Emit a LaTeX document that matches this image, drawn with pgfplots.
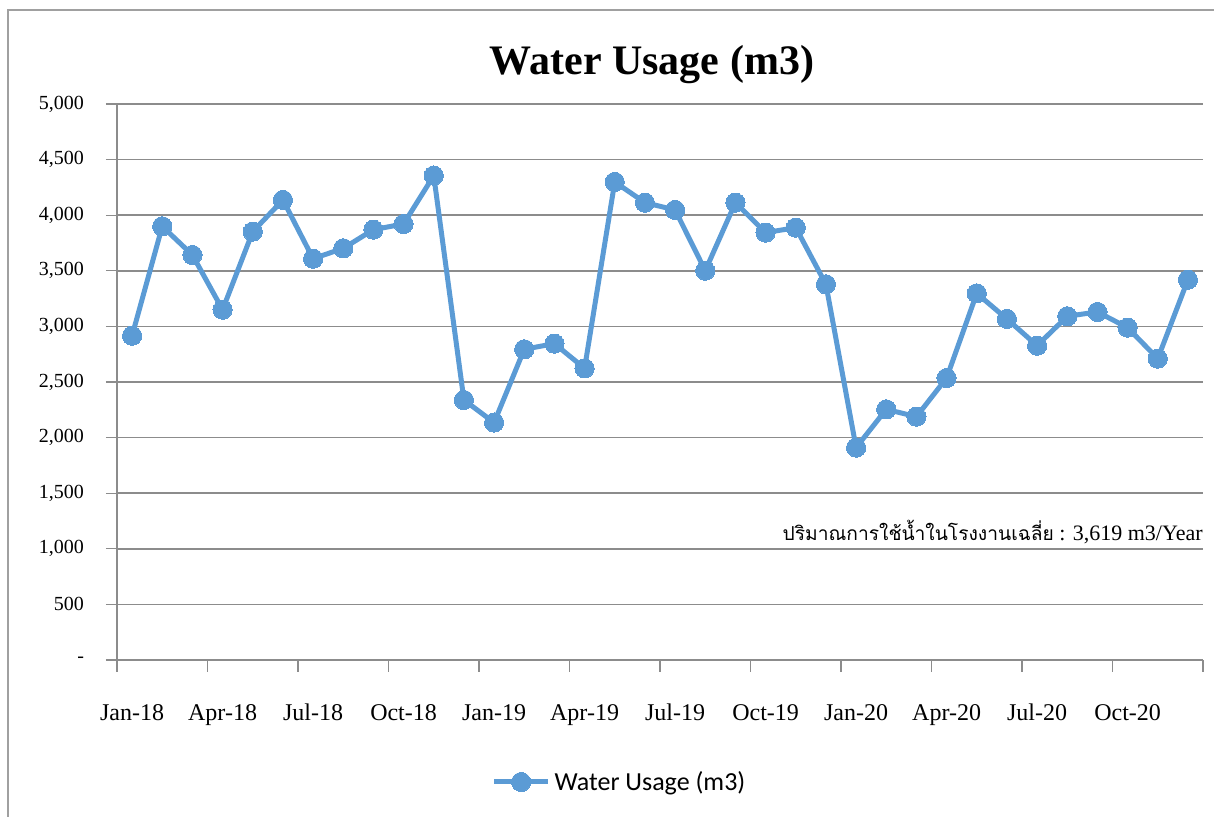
\documentclass[border=0pt]{standalone}
\usepackage{fontspec}
\setmainfont{Liberation Serif}
\newfontfamily\thaifont[Script=Thai]{Loma}
\newfontfamily\legendfont{Carlito}
\usepackage{pgfplots}
\pgfplotsset{compat=1.18}
\definecolor{serieblue}{HTML}{5B9BD5}
\definecolor{gridgray}{HTML}{8C8C8C}
\definecolor{framegray}{HTML}{A0A0A0}
\begin{document}
\begin{tikzpicture}
\useasboundingbox (0,0) rectangle (607pt,408.5pt);
\draw[framegray, line width=0.8pt] (4pt,0) -- (4pt,403.5pt) -- (607pt,403.5pt);
\begin{axis}[
  at={(58.5pt,78.5pt)}, anchor=south west,
  scale only axis, width=543pt, height=278pt,
  xmin=-0.5, xmax=35.5, ymin=0, ymax=5000,
  axis x line*=bottom, axis y line*=left,
  axis line style={gridgray, line width=0.6pt},
  ytick={0,500,1000,1500,2000,2500,3000,3500,4000,4500,5000},
  yticklabels={-,500,{1,000},{1,500},{2,000},{2,500},{3,000},{3,500},{4,000},{4,500},{5,000}},
  xtick={0,3,6,9,12,15,18,21,24,27,30,33},
  xticklabels={Jan-18,Apr-18,Jul-18,Oct-18,Jan-19,Apr-19,Jul-19,Oct-19,Jan-20,Apr-20,Jul-20,Oct-20},
  minor xtick={-0.5,2.5,5.5,8.5,11.5,14.5,17.5,20.5,23.5,26.5,29.5,32.5,35.5},
  major x tick style={draw=none},
  minor x tick style={draw=gridgray, line width=0.6pt},
  minor tick length=5.85pt,
  y tick style={draw=gridgray, line width=0.6pt},
  tick align=outside, major tick length=5.5pt,
  ymajorgrids, grid style={gridgray, line width=0.75pt},
  yticklabel style={font=\fontsize{10}{12}\selectfont, anchor=east, xshift=-7.5pt},
  xticklabel style={font=\fontsize{12}{14}\selectfont, anchor=base, yshift=-25pt},
  legend style={at={(rel axis cs:0.4636,0)}, anchor=center, yshift=-61pt, draw=none, fill=none,
    font=\legendfont\fontsize{13}{15}\selectfont, inner sep=0pt},
  legend image code/.code={\draw[#1, mark repeat=2, mark phase=2] plot coordinates {(0pt,0pt) (13.5pt,0pt) (27pt,0pt)};},
  clip=false,
]
\addplot[serieblue, line width=2.5pt, mark=*, mark size=4.8pt, mark options={fill=serieblue, draw=serieblue, line width=0pt}] coordinates {
(0,2916) (1,3900) (2,3642) (3,3150) (4,3852) (5,4137) (6,3609) (7,3702) (8,3870) (9,3921) (10,4356) (11,2338)
(12,2135) (13,2794) (14,2845) (15,2623) (16,4299) (17,4113) (18,4047) (19,3501) (20,4113) (21,3843) (22,3888) (23,3378)
(24,1910) (25,2254) (26,2188) (27,2536) (28,3297) (29,3067) (30,2827) (31,3091) (32,3130) (33,2989) (34,2710) (35,3420)
};
\addlegendentry{Water Usage (m3)}
\node[font=\bfseries\fontsize{21}{25}\selectfont, anchor=center] at (rel axis cs:0.4926,1) [yshift=19.5pt] {Water Usage (m3)};
\node[anchor=east, inner sep=0pt] at (axis cs:35.5,1151) {{\thaifont\fontsize{9.6}{12}\selectfont ปริมาณการใช้น้ำในโรงงานเฉลี่ย}\fontsize{11}{13}\selectfont\ : 3,619 m3/Year};
\end{axis}
\end{tikzpicture}
\end{document}
